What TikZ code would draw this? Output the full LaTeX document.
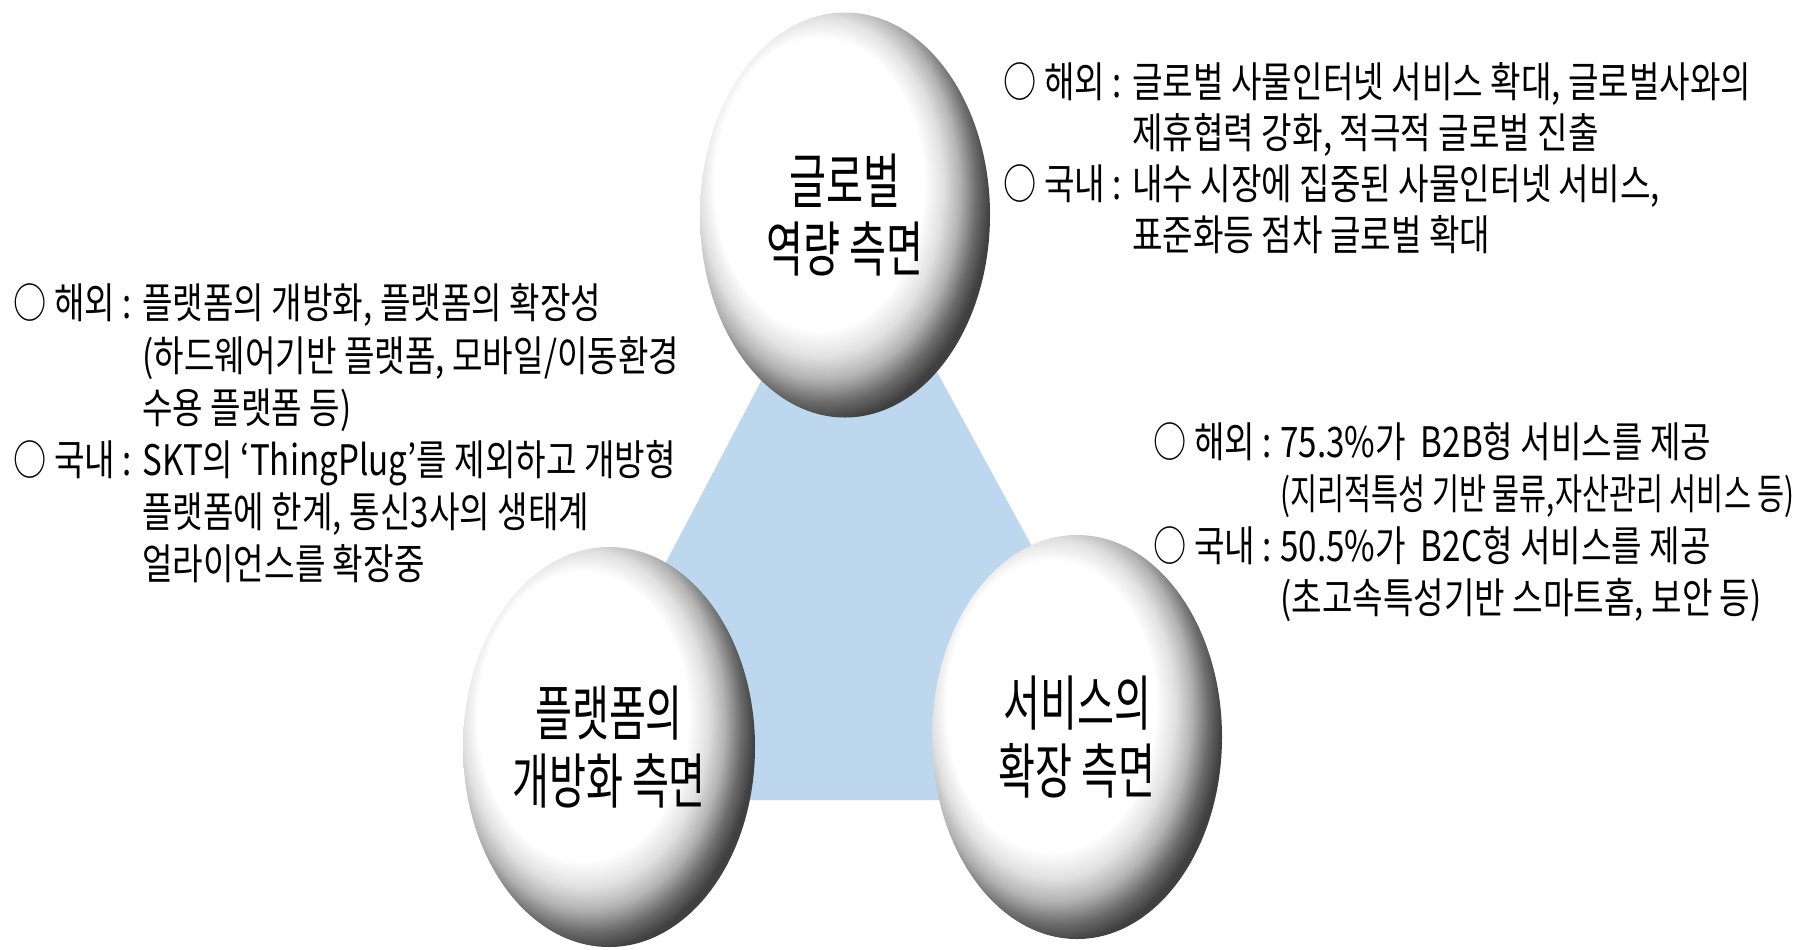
\documentclass[tikz,border=0pt]{standalone}
\usepackage{fontspec}
\usetikzlibrary{shapes.geometric}
\newfontfamily\krbody[FakeStretch=0.79]{Noto Sans CJK KR}
\newfontfamily\krnarrow[FakeStretch=0.70]{Noto Sans CJK KR}
\newfontfamily\kregg[FakeStretch=0.67]{Noto Sans CJK KR}
\definecolor{triblue}{RGB}{189,215,238}
\pgfdeclareradialshading{eggshade}{\pgfpoint{-7bp}{6bp}}{color(0bp)=(white); color(18bp)=(white); color(21bp)=(black!12); color(23.5bp)=(black!30); color(26bp)=(black!58); color(28bp)=(black!75); color(50bp)=(black!75)}
\tikzset{
  txt/.style={anchor=base west, inner sep=0pt, font=\krbody\fontsize{21pt}{25pt}\selectfont},
  txtn/.style={txt, font=\krnarrow\fontsize{21pt}{25pt}\selectfont},
  egg/.style={ellipse, inner sep=0pt, shading=eggshade, align=center,
              font=\kregg\fontsize{30pt}{34pt}\selectfont},
}
\begin{document}
\begin{tikzpicture}[x=0.5pt,y=-0.5pt]
\fill[white] (0,0) rectangle (1808,949);
\useasboundingbox (0,0) rectangle (1808,949);
% background triangle
\coordinate (apex) at (850,212);
\coordinate (bl) at (541,800);
\coordinate (br) at (1170,800);
\fill[triblue] (apex) -- (bl) -- (br) -- cycle;
% eggs
\node[egg, minimum width=145pt, minimum height=202.5pt] (glob) at (845,215) {글로벌\\역량 측면};
\node[egg, minimum width=146pt, minimum height=200pt] (plat) at (609,747) {플랫폼의\\개방화 측면};
\node[egg, minimum width=145pt, minimum height=202pt] (serv) at (1077,737) {서비스의\\확장 측면};
% top-right block
\node[txt] (g1a) at (1003,97) {○ 해외 :};
\node[txt] (g1b) at (1132,97) {글로벌 사물인터넷 서비스 확대, 글로벌사와의};
\node[txt] (g2)  at (1132,148) {제휴협력 강화, 적극적 글로벌 진출};
\node[txt] (g3a) at (1003,199) {○ 국내 :};
\node[txt] (g3b) at (1132,199) {내수 시장에 집중된 사물인터넷 서비스,};
\node[txt] (g4)  at (1132,250) {표준화등 점차 글로벌 확대};
% left block
\node[txt] (p1a) at (13,318) {○ 해외 :};
\node[txt] (p1b) at (142,318) {플랫폼의 개방화, 플랫폼의 확장성};
\node[txt] (p2)  at (142,371) {(하드웨어기반 플랫폼, 모바일/이동환경};
\node[txt] (p3)  at (142,423) {수용 플랫폼 등)};
\node[txt] (p4a) at (13,475) {○ 국내 :};
\node[txt] (p4b) at (142,475) {SKT의 ‘ThingPlug’를 제외하고 개방형};
\node[txt] (p5)  at (142,527) {플랫폼에 한계, 통신3사의 생태계};
\node[txt] (p6)  at (142,579) {얼라이언스를 확장중};
% right block
\node[txt] (s1a) at (1153,457) {○ 해외 :};
\node[txt] (s1b) at (1280,457) {75.3\%가\ \ B2B형 서비스를 제공};
\node[txtn] (s2) at (1280,509) {(지리적특성 기반 물류,자산관리 서비스 등)};
\node[txt] (s3a) at (1153,561) {○ 국내 :};
\node[txt] (s3b) at (1280,561) {50.5\%가\ \ B2C형 서비스를 제공};
\node[txt] (s4)  at (1280,613) {(초고속특성기반 스마트홈, 보안 등)};
\end{tikzpicture}
\end{document}
